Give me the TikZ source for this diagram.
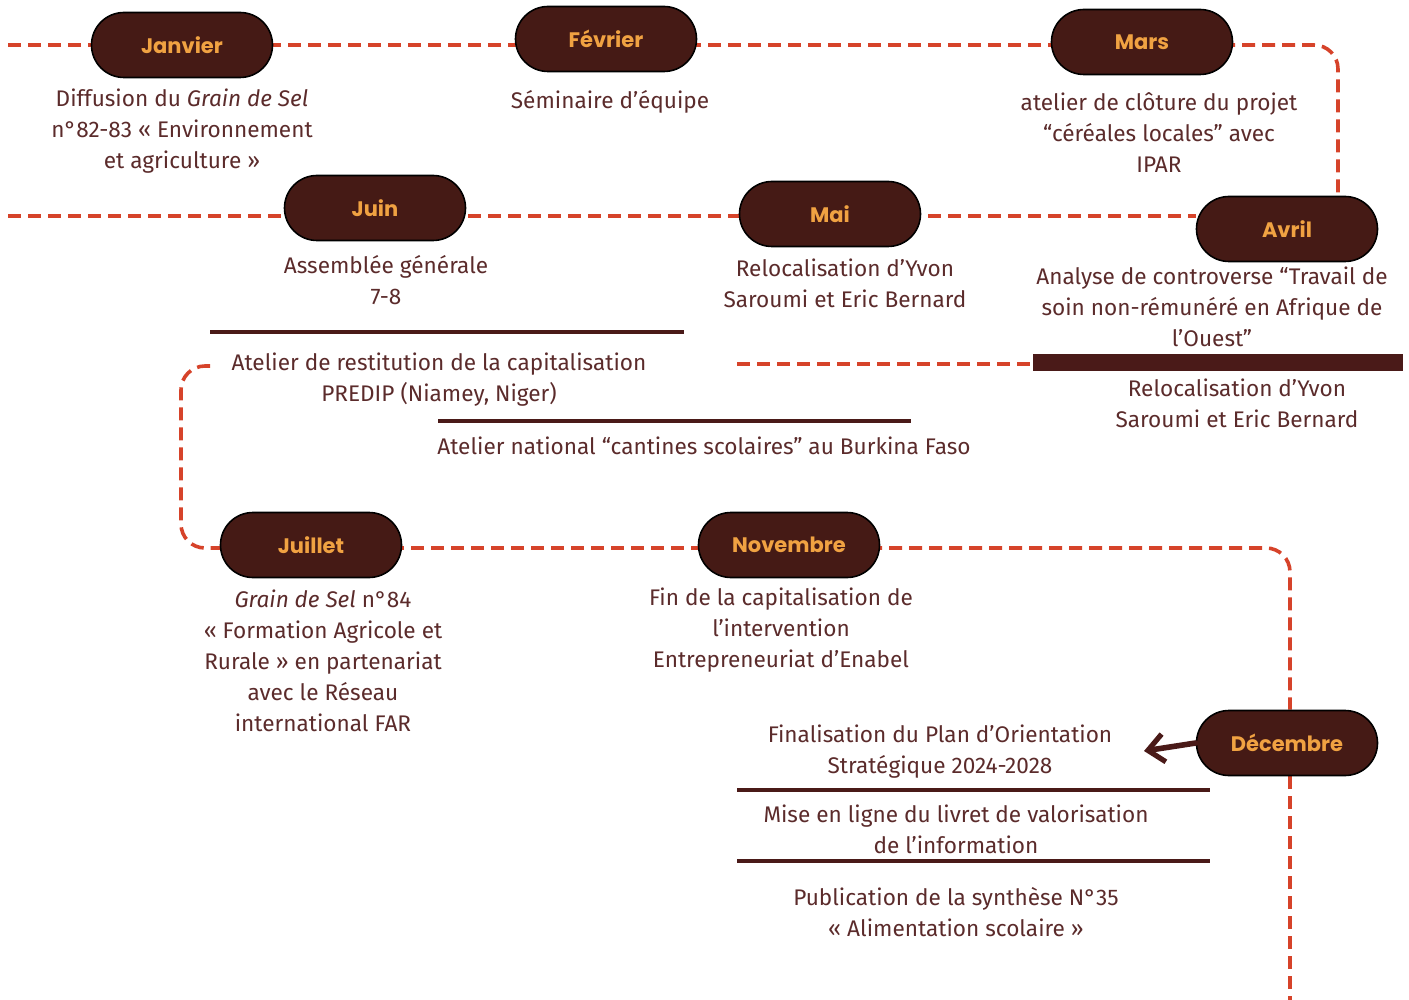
\documentclass[tikz,border=0pt]{standalone}
\usepackage{fontspec}
\setmainfont{Fira Sans}
\newfontfamily\pillfont{Poppins}
\usetikzlibrary{shapes.misc,arrows.meta}
\definecolor{dashc}{HTML}{D6432A}
\definecolor{pillc}{HTML}{451A15}
\definecolor{pilltxt}{HTML}{F0A242}
\definecolor{txtc}{HTML}{5B2B2B}
\definecolor{sepc}{HTML}{4A1A18}
\pgfdeclarelayer{bg}
\pgfsetlayers{bg,main}
\tikzset{
  pill/.style={rounded rectangle, fill=pillc, draw=black, line width=0.8pt,
    minimum width=90.5pt, minimum height=32.5pt, text=pilltxt,
    font=\pillfont\bfseries\fontsize{10.5}{12}\selectfont, inner sep=0pt},
  desc/.style={align=center, text=txtc, inner sep=0pt,
    font=\fontsize{11.3}{15.5}\selectfont},
  tl/.style={draw=dashc, line width=1.8pt, dash pattern=on 6.5pt off 3.5pt},
  sep/.style={draw=sepc, line width=1.6pt},
}
\begin{document}
\begin{tikzpicture}[x=0.5pt,y=-0.5pt]
\useasboundingbox (0,0) rectangle (1409,1000);
% pills
\node[pill] (jan) at (182,45) {Janvier};
\node[pill] (fev) at (606,39) {Février};
\node[pill] (mar) at (1142,42) {Mars};
\node[pill] (juin) at (375,208) {Juin};
\node[pill] (mai) at (830,214) {Mai};
\node[pill] (avr) at (1287,229) {Avril};
\node[pill] (juil) at (311,545) {Juillet};
\node[pill] (nov) at (789,545) {Novembre};
\node[pill] (dec) at (1287,743) {Décembre};
% free ends
\coordinate (s1) at (8,45);
\coordinate (s2) at (8,216);
\coordinate (c1) at (1338,45);
\coordinate (s3) at (210,366);
\coordinate (c3) at (181,366);
\coordinate (c4) at (181,548);
\coordinate (r3a) at (737,364);
\coordinate (r3b) at (1033,364);
\coordinate (c5) at (1290,548);
\coordinate (e5) at (1290,1000);
\begin{pgfonlayer}{bg}
\draw[tl] (s1) -- (jan.center |- s1) -- (fev.center |- s1) -- (mar.center |- s1);
\draw[tl, rounded corners=12pt] (mar.center |- s1) -- (c1) -- (c1 |- avr.north);
\draw[tl] (s2) -- (juin.center |- s2) -- (mai.center |- s2) -- (avr.west |- s2);
\draw[tl, rounded corners=12pt] (s3) -- (c3) -- (c4) -- (juil.center |- c4);
\draw[tl] (juil.center |- c4) -- (nov.center |- c4);
\draw[tl, rounded corners=12pt] (nov.center |- c4) -- (c5) -- (c5 |- dec.north);
\draw[tl] (c5 |- dec.south) -- (e5);
\draw[tl] (r3a) -- (r3b);
\end{pgfonlayer}
\fill[sepc] (1033,354) rectangle (1403,371);
% separators
\draw[sep] (210,332) -- (684,332);
\draw[sep] (438,421) -- (911,421);
\draw[sep] (737,790) -- (1210,790);
\draw[sep] (737,861) -- (1210,861);
% descriptions
\node[desc] (djan) at (182,131) {Diffusion du \textit{Grain de Sel}\\n°82-83 « Environnement\\et agriculture »};
\node[desc] (dfev) at (610,102) {Séminaire d’équipe};
\node[desc] (dmar) at (1159,133) {atelier de clôture du projet\\“céréales locales” avec\\IPAR};
\node[desc] (djuin) at (386,280) {Assemblée générale\\7-8};
\node[desc] (dmai) at (845,283) {Relocalisation d’Yvon\\Saroumi et Eric Bernard};
\node[desc] (davr) at (1212,307) {Analyse de controverse “Travail de\\soin non-rémunéré en Afrique de\\l’Ouest”};
\node[desc] (davr2) at (1237,403) {Relocalisation d’Yvon\\Saroumi et Eric Bernard};
\node[desc] (dpred) at (439,380) {Atelier de restitution de la capitalisation\\PREDIP (Niamey, Niger)};
\node[desc] (dcant) at (704,446) {Atelier national “cantines scolaires” au Burkina Faso};
\node[desc] (djuil) at (323,661) {\textit{Grain de Sel} n°84\\« Formation Agricole et\\Rurale » en partenariat\\avec le Réseau\\international FAR};
\node[desc] (dnov) at (781,630) {Fin de la capitalisation de\\l’intervention\\Entrepreneuriat d’Enabel};
\node[desc] (ddec) at (940,752) {Finalisation du Plan d’Orientation\\Stratégique 2024-2028};
\node[desc] (dliv) at (956,829) {Mise en ligne du livret de valorisation\\de l’information};
\node[desc] (dpub) at (956,912) {Publication de la synthèse N°35\\« Alimentation scolaire »};
% arrow
\coordinate (atip) at (1144,751);
\draw[draw=sepc, line width=2.8pt, line cap=round, -{Straight Barb[length=8pt,width=14pt,line width=2.6pt]}] (dec.west) -- (atip);
\end{tikzpicture}
\end{document}
